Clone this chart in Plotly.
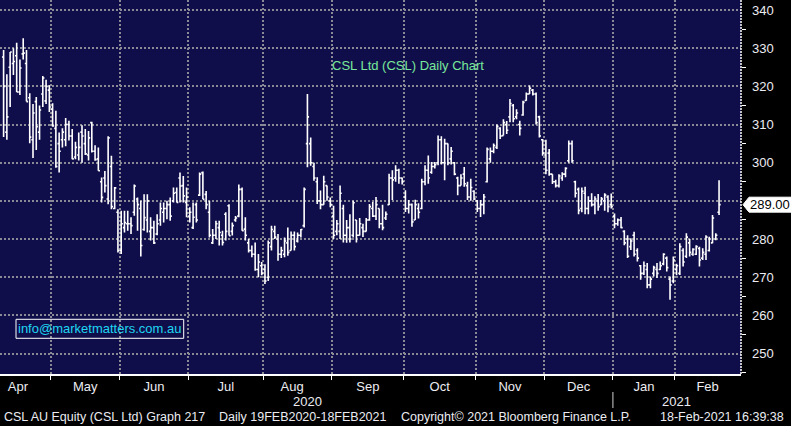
import plotly.graph_objects as go

# ---------------- data ----------------
months = ["Apr", "May", "Jun", "Jul", "Aug", "Sep", "Oct", "Nov", "Dec", "Jan", "Feb"]
month_days = [15, 21, 21, 23, 21, 22, 22, 21, 21, 19, 14]
month_label_pos = [4.4, 25, 46, 68, 88.3, 111.5, 133.5, 155, 176, 196, 215.5]
years = ["2020", "2021"]
year_label_pos = [92.9, 206.0]
y_ticks = [250, 260, 270, 280, 290, 300, 310, 320, 330, 340]
y_minor = [245, 255, 265, 275, 285, 295, 305, 315, 325, 335, 345]

opens = [
    327.7, 308, 325, 326, 328, 318.5, 328.5, 326, 317, 306, 316, 308, 318, 316.2, 319,
    314, 309, 305, 306, 306, 310, 307, 301.5, 302, 308, 305, 302, 310.5, 303, 301, 295, 296, 290.5, 299, 288, 287,
    277, 283, 284, 284, 287, 290.5, 288, 282.5, 285, 282, 283, 281.3, 285, 287, 288, 289, 290, 292.2, 296, 294, 289.6,
    286, 283, 289, 291.5, 297.4, 291.7, 287, 279, 281, 283, 281, 286.5, 288.7, 282, 285, 286, 293, 282.6, 279, 277, 276, 272, 273,
    272, 270, 278, 282, 280, 276, 276, 279, 277, 281, 279.5, 281, 283.5, 305, 305, 299, 295, 290, 289, 294, 290,
    286, 282, 282, 288, 281, 283, 281, 285, 281, 283, 282, 285, 288, 286, 288, 284, 285.5, 289, 296, 296, 298, 296,
    291, 288, 289, 285, 288, 288, 295, 298, 297.5, 299, 300, 306, 300, 305, 301, 300, 296, 294, 297, 294, 291, 292.5,
    290, 288, 289, 295, 301, 303, 304, 309, 307.1, 310, 312, 315, 312, 310, 312.5, 316.3, 318, 319, 318, 312, 306,
    302, 302.5, 297, 295, 294, 296, 297, 300.5, 305, 295, 293, 288, 292, 288, 290, 289, 290, 289, 290, 291, 289,
    286, 284, 285, 282, 280, 278, 281, 277, 273, 271, 272, 268, 271, 272, 272, 273.5, 275, 269.5, 269,
    272, 271, 277, 275.5, 279, 276, 276, 277.5, 275, 276, 277, 279, 280, 287,
]
highs = [
    329.5, 323.2, 329.0, 330.0, 331.4, 327.0, 332.6, 329.5, 318.2, 315.4, 317.2, 315.0, 322.7, 321.7, 320.3,
    315.6, 313.6, 307.9, 309, 311.7, 311, 308.8, 305.5, 307.9, 309.8, 308.8, 308.3, 310.7, 304.6, 304, 296.1, 297.8, 306.9, 301.8, 293.6, 287.8,
    287.4, 287.4, 287.4, 285.7, 294.3, 290.9, 290, 291.7, 291.7, 285.7, 284.8, 286.5, 289.6, 289.6, 290, 290.9, 293.5, 293.5, 297.4, 296.5, 293.5,
    288.3, 289.6, 289.6, 297.4, 297.7, 292.6, 290, 282.6, 284.8, 284.8, 282.2, 287, 289.1, 284.3, 286, 294.3, 293.5, 285.7, 280, 278.3, 279.1, 276.1, 274,
    273.4, 279.6, 283.5, 283.5, 281.3, 278, 280.4, 283, 282, 282, 281.7, 282.6, 293.5, 318, 306.6, 300, 296.2, 292.7, 296.6, 294, 290.9,
    288.7, 285, 294, 289, 285, 286.5, 290, 285, 285.5, 284, 285.5, 289.2, 289.7, 291, 288, 289, 287.2, 297.1, 298, 299.3, 298.4, 296.1,
    292.8, 290.2, 289.3, 290.3, 289.4, 295.8, 299.3, 301.9, 300.2, 300.2, 307.1, 306.9, 306.3, 305, 304.1, 300.2, 296.3, 297, 298.9, 295, 295.8, 292.8,
    290.2, 290.2, 291.8, 304, 304, 305, 310, 309.3, 311.4, 310.9, 316.7, 315.4, 314, 311, 316.2, 318.4, 320.2, 319.3, 318.4, 312.3, 306.2,
    306, 303.6, 297, 295.5, 297, 297.5, 298.8, 305.8, 305.8, 295.3, 293.5, 293.5, 293.7, 291.2, 292, 291.2, 291.8, 291, 292, 291.5, 291.9,
    286.7, 285.4, 285.8, 282.3, 281, 280.2, 281.9, 277.6, 273.2, 274.1, 273.7, 270.2, 273, 273.7, 274.1, 276.3, 275.4, 270.2, 275.4,
    273.5, 278.9, 277.6, 281.5, 280, 277.6, 278.4, 278, 277.6, 281, 280.6, 286.3, 281.5, 295.4,
]
lows = [
    306.7, 306.0, 314.6, 323.0, 318.5, 317.7, 327.0, 316.0, 305.1, 301.2, 303.3, 306.0, 314.6, 315.4, 313.3,
    309.4, 298.7, 297.4, 304, 304.3, 305.8, 300.9, 300.9, 300.6, 300, 302, 300.6, 302.7, 300.5, 297.9, 289.6, 292.2, 289.1, 287.8, 287.8, 276.5,
    276.1, 281.7, 282.2, 281.3, 286.1, 282.2, 275.4, 282.2, 281.7, 279.6, 278.7, 281, 283.5, 284.3, 285.2, 284.8, 289.6, 289.6, 289.6, 289.6, 285.7,
    284.3, 282.6, 284.3, 291.3, 290.4, 287.8, 280.4, 278.7, 280, 278.3, 278.3, 279.6, 280.9, 280.9, 284.5, 285.7, 282.2, 279.6, 276.5, 275.2, 271.7, 270, 270.5,
    268.2, 269, 277, 280, 274.3, 275, 275.2, 275.6, 277, 277, 279.1, 280.4, 283, 298.8, 299.2, 295.3, 289.2, 287.8, 289, 290, 288.3,
    280, 281, 280, 279.1, 279, 279.1, 280.4, 279.1, 280.9, 280.5, 282, 284.8, 285.8, 285, 282.8, 282.3, 285, 288.9, 290.2, 295, 294.5, 294.3,
    287.1, 286.7, 283.2, 285, 285.4, 287.8, 294.1, 294.5, 297.1, 298.5, 299.3, 299.5, 295.4, 299.3, 299.5, 296.7, 291.5, 294, 293.7, 290.2, 290, 290.2,
    287.1, 285.8, 286.5, 294.8, 300, 302.5, 303.6, 306.2, 307.1, 307.5, 310.6, 310.6, 311.4, 307.1, 312.3, 316.2, 318, 317.6, 310, 306.6, 301.8,
    297, 296.6, 294.4, 293.5, 293.5, 295.3, 296.2, 300, 300, 290.9, 286.5, 287, 286.5, 286.5, 288.5, 286.5, 287.4, 289, 287.4, 287, 288,
    282.8, 283.5, 282.8, 278.4, 275, 277.1, 275.4, 274.1, 269.3, 270.6, 267.1, 267.1, 270.2, 269.8, 271.9, 273.1, 271.5, 264.1, 268.4,
    270.5, 270.6, 272.8, 275, 275.4, 275.6, 275.8, 272.8, 274.5, 274.5, 276.7, 278.9, 279.7, 286.3,
]
closes = [
    320, 312, 329, 326.5, 318.5, 324.8, 328.7, 316, 306.7, 313, 309.4, 313.8, 322.2, 320, 314.6,
    309.6, 299, 303, 308, 310, 307, 301, 304, 304, 307, 302.3, 306.5, 303, 300.8, 297.9, 290.9, 294, 306.5, 288.5, 293.4, 277,
    284, 284.3, 284, 283.5, 293.9, 289, 278.3, 285.6, 290, 283, 279, 284, 288, 288, 289, 286, 292, 289.6, 293.9, 291.3, 291,
    287, 285.7, 285, 297, 290.4, 289, 281, 281, 284, 281.7, 279.1, 282, 280.9, 283.5, 285.5, 293, 282.2, 281, 277, 276, 272, 274, 271,
    269, 279, 282.5, 280.5, 276, 277, 279.5, 276.5, 281, 278, 281, 282.5, 293, 312, 300, 296, 290, 289, 295, 291, 289,
    281, 284, 292, 281, 283, 280, 289.5, 281, 284, 282, 285, 288.5, 286, 289, 284, 283, 286.5, 296, 295.5, 298, 296, 295,
    288, 289, 284.5, 289, 287, 295, 298, 296, 299, 299.5, 306, 300, 305, 300, 303, 297, 294, 296, 294.5, 291, 293.5, 290.5,
    288, 289, 291, 303.5, 303, 304.5, 309.5, 307, 310.5, 308.5, 315.5, 311.5, 313, 309, 315.8, 318, 319.5, 318, 310.5, 307, 302.5,
    298, 297, 295, 294, 296.5, 297, 298.5, 305, 300.5, 292, 287.5, 292.5, 288, 290, 289, 290.5, 288.5, 290.5, 291.5, 288.5, 288.5,
    284, 285, 283, 279, 275.5, 279.5, 276, 275, 271, 273, 268, 269.5, 272.5, 271, 273, 276, 272.5, 268, 274.5,
    273, 278, 274, 280.5, 276.5, 277.3, 278, 274.5, 276.5, 280.5, 280, 285.5, 281, 289,
]

# ---------------- derived positions ----------------
x_idx = list(range(len(closes)))
boundaries = []
acc = 0
for d in month_days[:-1]:
    acc += d
    boundaries.append(acc - 0.5)

last = closes[-1]
# tick labels hidden where the last-price tag covers them
y_ticktext = ["" if abs(v - last) < 4 else str(v) for v in y_ticks]

FONT = "Liberation Sans, Arial, sans-serif"
NAVY = "#100e4a"
GRID = "#8a8a96"
TXT = "#ececf2"

W, H = 791, 426
ML, MR, MT, MB = 0, 50, 0, 52
PW, PH = W - ML - MR, H - MT - MB


def px_x(p):
    return p / PW


def px_y(p):
    return (PH - p) / PH


fig = go.Figure()
fig.add_trace(go.Ohlc(
    x=x_idx, open=opens, high=highs, low=lows, close=closes,
    increasing=dict(line=dict(color="white", width=1.6)),
    decreasing=dict(line=dict(color="white", width=1.6)),
    tickwidth=0.5, hoverinfo="skip", showlegend=False,
))
# axis tick markers (small triangles right of the value axis)
fig.add_trace(go.Scatter(
    x=[227.0] * len(y_ticks), y=y_ticks, mode="markers",
    marker=dict(symbol="triangle-right", size=7, color="white", line=dict(width=0)),
    cliponaxis=False, hoverinfo="skip", showlegend=False,
))

fig.update_layout(
    width=W, height=H,
    margin=dict(l=ML, r=MR, t=MT, b=MB, pad=0, autoexpand=False),
    paper_bgcolor="black", plot_bgcolor=NAVY,
    font=dict(family=FONT, size=13, color=TXT),
    showlegend=False,
    xaxis=dict(
        range=[-1.102, 225.72], rangeslider=dict(visible=False),
        tickmode="array", tickvals=month_label_pos, ticktext=months,
        ticks="", showgrid=False, zeroline=False,
        showline=True, linecolor="white", linewidth=1.5,
        tickfont=dict(family=FONT, size=13, color=TXT),
        ticklabelstandoff=0, automargin=False,
        minor=dict(tickmode="array", tickvals=boundaries, ticks="outside", ticklen=4,
                   tickcolor="white", tickwidth=1, showgrid=True, gridcolor=GRID,
                   griddash="2px,2px", gridwidth=1.7),
        fixedrange=True,
    ),
    yaxis=dict(
        range=[244.64, 342.62], side="right",
        tickmode="array", tickvals=y_ticks, ticktext=y_ticktext,
        ticks="", showgrid=True, gridcolor=GRID, griddash="2px,2px", gridwidth=1.7,
        zeroline=False, showline=False,
        tickfont=dict(family=FONT, size=13, color=TXT),
        ticklabelstandoff=10, automargin=False,
        minor=dict(tickmode="array", tickvals=y_minor, ticks="outside", ticklen=4,
                   tickcolor="white", tickwidth=1, showgrid=False),
        fixedrange=True,
    ),
)

shapes = [
    # dotted value-axis line
    dict(type="line", xref="paper", yref="paper", x0=1, x1=1, y0=0, y1=1,
         line=dict(color="white", width=1.5, dash="2px,1px")),
    # year separator
    dict(type="line", xref="x", yref="paper", x0=boundaries[8], x1=boundaries[8],
         y0=px_y(392), y1=px_y(408), line=dict(color="#8c8c8c", width=1.5)),
    # watermark box
    dict(type="rect", xref="paper", yref="paper", x0=px_x(16), x1=px_x(183.7),
         y0=px_y(338.3), y1=px_y(319.3), line=dict(color="white", width=1)),
]
d = 1.96
x_tip, x_sh, x_end = px_x(743), px_x(749), px_x(791)
shapes.append(dict(
    type="path", xref="paper", yref="y",
    path=f"M {x_tip},{last} L {x_sh},{last + d} L {x_end},{last + d} L {x_end},{last - d} L {x_sh},{last - d} Z",
    fillcolor="white", line=dict(color="white", width=1),
))
fig.update_layout(shapes=shapes)

ann = [
    dict(text="CSL Ltd (CSL) Daily Chart", xref="paper", yref="paper",
         x=px_x(407.5), y=px_y(65), xanchor="center", yanchor="middle", showarrow=False,
         font=dict(family=FONT, size=13, color="#78e89a")),
    dict(text="info@marketmatters.com.au", xref="paper", yref="paper",
         x=px_x(99.9), y=px_y(328.8), xanchor="center", yanchor="middle", showarrow=False,
         font=dict(family=FONT, size=13, color="#1ed6f2")),
    dict(text=f"{last:.2f}", xref="paper", yref="y", x=px_x(769.5), y=last,
         xanchor="center", yanchor="middle", showarrow=False,
         font=dict(family=FONT, size=13, color="black")),
]
for yl, yp in zip(years, year_label_pos):
    ann.append(dict(text=yl, xref="x", yref="paper", x=yp, y=px_y(401),
                    xanchor="center", yanchor="middle", showarrow=False,
                    font=dict(family=FONT, size=13, color=TXT)))
footer = [
    ("CSL AU Equity (CSL Ltd) Graph 217", 2),
    ("Daily 19FEB2020-18FEB2021", 216.7),
    ("Copyright\u00a9 2021 Bloomberg Finance L.P.", 399),
    ("18-Feb-2021 16:39:38", 658),
]
for t, xp in footer:
    ann.append(dict(text=t, xref="paper", yref="paper", x=px_x(xp), y=px_y(417),
                    xanchor="left", yanchor="middle", showarrow=False,
                    font=dict(family=FONT, size=12.5, color=TXT)))
fig.update_layout(annotations=ann)

fig.write_html(
    "out.html",
    config={"displayModeBar": False},
    post_script="document.body.style.margin='0';document.body.style.overflow='hidden';",
)
